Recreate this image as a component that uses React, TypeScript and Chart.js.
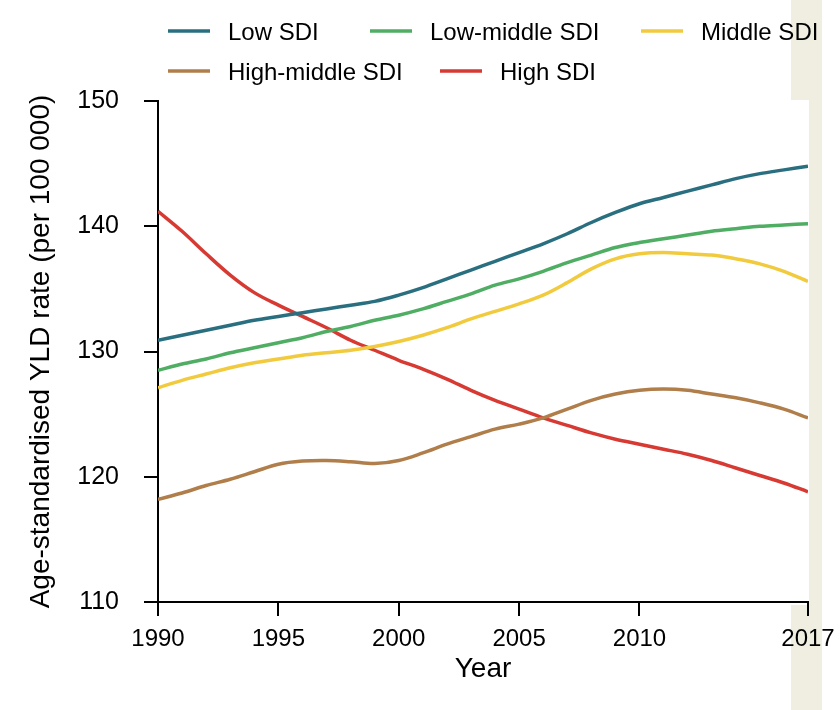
import React, { useEffect, useRef } from "react";
import { Chart, registerables } from "chart.js";

Chart.register(...registerables);

const years: number[] = [
  1990, 1991, 1992, 1993, 1994, 1995, 1996, 1997, 1998, 1999,
  2000, 2001, 2002, 2003, 2004, 2005, 2006, 2007, 2008, 2009,
  2010, 2011, 2012, 2013, 2014, 2015, 2016, 2017,
];

const lowSDI: number[] = [
  130.9, 131.3, 131.7, 132.1, 132.5, 132.8, 133.1, 133.4, 133.7, 134.0,
  134.5, 135.1, 135.8, 136.5, 137.2, 137.9, 138.6, 139.4, 140.3, 141.1,
  141.8, 142.3, 142.8, 143.3, 143.8, 144.2, 144.5, 144.8,
];

const lowMiddleSDI: number[] = [
  128.5, 129.0, 129.4, 129.9, 130.3, 130.7, 131.1, 131.6, 132.0, 132.5,
  132.9, 133.4, 134.0, 134.6, 135.3, 135.8, 136.4, 137.1, 137.7, 138.3,
  138.7, 139.0, 139.3, 139.6, 139.8, 140.0, 140.1, 140.2,
];

const middleSDI: number[] = [
  127.1, 127.7, 128.2, 128.7, 129.1, 129.4, 129.7, 129.9, 130.1, 130.4,
  130.8, 131.3, 131.9, 132.6, 133.2, 133.8, 134.5, 135.5, 136.6, 137.4,
  137.8, 137.9, 137.8, 137.7, 137.4, 137.0, 136.4, 135.6,
];

const highMiddleSDI: number[] = [
  118.2, 118.7, 119.3, 119.8, 120.4, 121.0, 121.25, 121.3, 121.2, 121.05,
  121.3, 121.9, 122.6, 123.2, 123.8, 124.2, 124.7, 125.4, 126.1, 126.6,
  126.9, 127.0, 126.9, 126.6, 126.3, 125.9, 125.4, 124.7,
];

const highSDI: number[] = [
  141.2, 139.6, 137.8, 136.1, 134.7, 133.7, 132.8, 131.9, 130.9, 130.1,
  129.3, 128.6, 127.8, 126.9, 126.1, 125.4, 124.7, 124.1, 123.5, 123.0,
  122.6, 122.2, 121.8, 121.3, 120.7, 120.1, 119.5, 118.8,
];

const seriesLabels: string[] = [
  "Low SDI",
  "Low-middle SDI",
  "Middle SDI",
  "High-middle SDI",
  "High SDI",
];

const xTickValues: number[] = [1990, 1995, 2000, 2005, 2010, 2017];
const yTickValues: number[] = [110, 120, 130, 140, 150];

const xTitle = "Year";
const yTitle = "Age-standardised YLD rate (per 100 000)";

const colors = ["#2a6f80", "#4fae63", "#f1cb3d", "#b07e4a", "#d63a33"];
const FONT = "'Liberation Sans', Arial, Helvetica, sans-serif";

// legend layout (pixel positions of each item's line sample)
const legendLayout = [
  { x: 168, y: 31 },
  { x: 370, y: 31 },
  { x: 641, y: 31 },
  { x: 168, y: 71 },
  { x: 440, y: 71 },
];

const bgPlugin = {
  id: "bgStrip",
  beforeDraw(chart: any) {
    const ctx = chart.ctx;
    ctx.save();
    ctx.fillStyle = "#efeee1";
    ctx.fillRect(791, 0, 31, 100);
    ctx.fillRect(809, 100, 13, 505);
    ctx.fillRect(791, 605, 31, 105);
    ctx.restore();
  },
};

const legendPlugin = {
  id: "customLegend",
  afterDraw(chart: any) {
    const ctx = chart.ctx;
    ctx.save();
    chart.data.datasets.forEach((ds: any, i: number) => {
      const p = legendLayout[i];
      ctx.strokeStyle = ds.borderColor;
      ctx.lineWidth = 3.5;
      ctx.lineCap = "butt";
      ctx.beginPath();
      ctx.moveTo(p.x, p.y);
      ctx.lineTo(p.x + 42, p.y);
      ctx.stroke();
      ctx.fillStyle = "#000";
      ctx.font = `24px ${FONT}`;
      ctx.textBaseline = "middle";
      ctx.textAlign = "left";
      ctx.fillText(ds.label, p.x + 60, p.y + 2);
    });
    ctx.restore();
  },
};

export default function App() {
  const ref = useRef<HTMLCanvasElement | null>(null);

  useEffect(() => {
    document.body.style.margin = "0";
    const canvas = ref.current;
    if (!canvas) return;
    const series = [lowSDI, lowMiddleSDI, middleSDI, highMiddleSDI, highSDI];
    const chart = new Chart(canvas, {
      type: "line",
      data: {
        datasets: series.map((vals, i) => ({
          label: seriesLabels[i],
          data: years.map((y, j) => ({ x: y, y: vals[j] })),
          borderColor: colors[i],
          backgroundColor: colors[i],
          borderWidth: 3.5,
          pointRadius: 0,
          tension: 0.35,
          fill: false,
        })),
      },
      options: {
        animation: false,
        responsive: false,
        layout: { padding: { top: 101, right: 32, bottom: 0, left: 0 } },
        plugins: {
          legend: { display: false },
          tooltip: { enabled: false },
        },
        scales: {
          x: {
            type: "linear",
            min: 1990,
            max: 2017,
            afterBuildTicks: (s: any) => {
              s.ticks = xTickValues.map((v) => ({ value: v }));
            },
            afterFit: (s: any) => {
              s.height = 108;
              s.paddingLeft = 0;
              s.paddingRight = 0;
            },
            grid: {
              drawOnChartArea: false,
              drawTicks: true,
              tickLength: 14,
              color: "#000",
              lineWidth: 2,
            },
            border: { color: "#000", width: 2 },
            ticks: {
              color: "#000",
              font: { family: FONT, size: 24 },
              padding: 9,
              maxRotation: 0,
              autoSkip: false,
              callback: (v: any) => String(v),
            },
            title: {
              display: true,
              text: xTitle,
              color: "#000",
              font: { family: FONT, size: 28 },
              padding: { top: 0, bottom: 24 },
            },
          },
          y: {
            type: "linear",
            min: 110,
            max: 150,
            afterBuildTicks: (s: any) => {
              s.ticks = yTickValues.map((v) => ({ value: v }));
            },
            afterFit: (s: any) => {
              s.width = 158;
              s.paddingTop = 0;
              s.paddingBottom = 0;
            },
            grid: {
              drawOnChartArea: false,
              drawTicks: true,
              tickLength: 14,
              color: "#000",
              lineWidth: 2,
            },
            border: { color: "#000", width: 2 },
            ticks: {
              color: "#000",
              font: { family: FONT, size: 25 },
              padding: 25,
              callback: (v: any) => String(v),
            },
            title: {
              display: true,
              text: yTitle,
              color: "#000",
              font: { family: FONT, size: 28 },
              padding: { top: 24, bottom: 0 },
            },
          },
        },
      },
      plugins: [bgPlugin, legendPlugin],
    });
    return () => chart.destroy();
  }, []);

  return (
    <div style={{ position: "relative", width: 840, height: 710, background: "#fff" }}>
      <canvas ref={ref} width={840} height={710} style={{ display: "block" }} />
    </div>
  );
}
